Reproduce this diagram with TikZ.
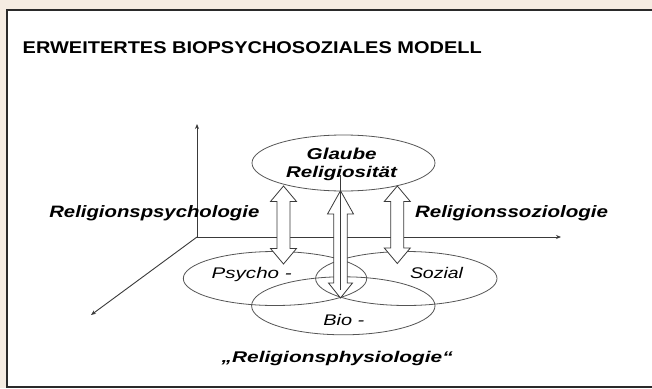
\documentclass[tikz,border=0pt]{standalone}
\usepackage{fontspec}
\usepackage{graphicx}
\setmainfont{Liberation Sans}
\definecolor{bgbeige}{HTML}{F5ECE2}
\definecolor{framec}{HTML}{2A2A2A}
\definecolor{linec}{HTML}{3A3A3A}
\definecolor{ellc}{HTML}{555555}
\newcommand{\fitw}[2]{\resizebox{#1pt}{\height}{#2}}
\tikzset{
  txt/.style={anchor=base west, inner sep=0pt, outer sep=0pt, text=black},
  axis/.style={draw=linec, line width=0.9pt, -{Stealth[length=5pt,width=4pt]}},
  ell/.style={draw=ellc, line width=0.8pt},
  harrow/.style={draw=linec, line width=0.8pt, fill=white, line join=miter},
}
\usetikzlibrary{arrows.meta}
\begin{document}
\begin{tikzpicture}[x=1pt,y=-1pt]
\useasboundingbox (0,0) rectangle (652,388);
\fill[bgbeige] (0,0) rectangle (652,388);
\draw[framec, line width=2pt, fill=white] (7.3,10) rectangle (670,387);

% title
\node[txt] (title) at (22.7,53.3) {\fitw{459}{\fontsize{17}{20}\selectfont\bfseries ERWEITERTES BIOPSYCHOSOZIALES MODELL}};

% axes
\coordinate (o) at (197,237);
\coordinate (yt) at (197,124);
\coordinate (xt) at (561,237);
\coordinate (zt) at (91,315);
\draw[axis] (o) -- (yt);
\draw[axis] (o) -- (xt);
\draw[axis] (o) -- (zt);

% ellipses
\draw[ell] (343.5,163) ellipse [x radius=91.5pt, y radius=28pt];
\draw[ell] (275,278.5) ellipse [x radius=91.7pt, y radius=27pt];
\draw[ell] (406.3,278.5) ellipse [x radius=90.7pt, y radius=27pt];
\draw[ell] (343.3,305.8) ellipse [x radius=91.7pt, y radius=29pt];

% hollow double arrows
\draw[harrow] (283.5,186) -- (296.5,201.5) -- (290,201.5) -- (290,248.5) -- (296.5,248.5) -- (283.5,264) -- (270.5,248.5) -- (277,248.5) -- (277,201.5) -- (270.5,201.5) -- cycle;
\draw[harrow] (397.3,186) -- (410.3,201.5) -- (403.8,201.5) -- (403.8,248) -- (410.3,248) -- (397.3,263.5) -- (384.3,248) -- (390.8,248) -- (390.8,201.5) -- (384.3,201.5) -- cycle;
\draw[harrow] (340.5,190.7) -- (353.5,214) -- (347.2,214) -- (347.2,283) -- (352.5,283) -- (340.5,298) -- (328.5,283) -- (333.8,283) -- (333.8,214) -- (327.5,214) -- cycle;
\coordinate (ct) at (340.5,175);
\coordinate (cb) at (340.5,290);
\draw[linec, line width=0.6pt] (ct) -- (cb);

% labels
\node[txt] (glaube) at (306.7,159) {\fitw{70}{\fontsize{15.8}{18}\selectfont\bfseries\itshape Glaube}};
\node[txt] (relig) at (286,177.3) {\fitw{111}{\fontsize{15.5}{18}\selectfont\bfseries\itshape Religiosität}};
\node[txt] (rpsy) at (49.3,217.7) {\fitw{210}{\fontsize{16.5}{19}\selectfont\bfseries\itshape Religionspsychologie}};
\node[txt] (rsoz) at (415,217.7) {\fitw{193}{\fontsize{16.5}{19}\selectfont\bfseries\itshape Religionssoziologie}};
\node[txt] (psy) at (211.7,278.3) {\fitw{80}{\fontsize{15.4}{18}\selectfont\itshape Psycho -}};
\node[txt] (soz) at (410,278.3) {\fitw{53}{\fontsize{15.4}{18}\selectfont\itshape Sozial}};
\node[txt] (bio) at (323.3,325) {\fitw{41}{\fontsize{15.4}{18}\selectfont\itshape Bio -}};
\node[txt] (rphy) at (221.7,362.7) {\fitw{231}{\fontsize{15.5}{18}\selectfont\bfseries\itshape „Religionsphysiologie“}};
\end{tikzpicture}
\end{document}
